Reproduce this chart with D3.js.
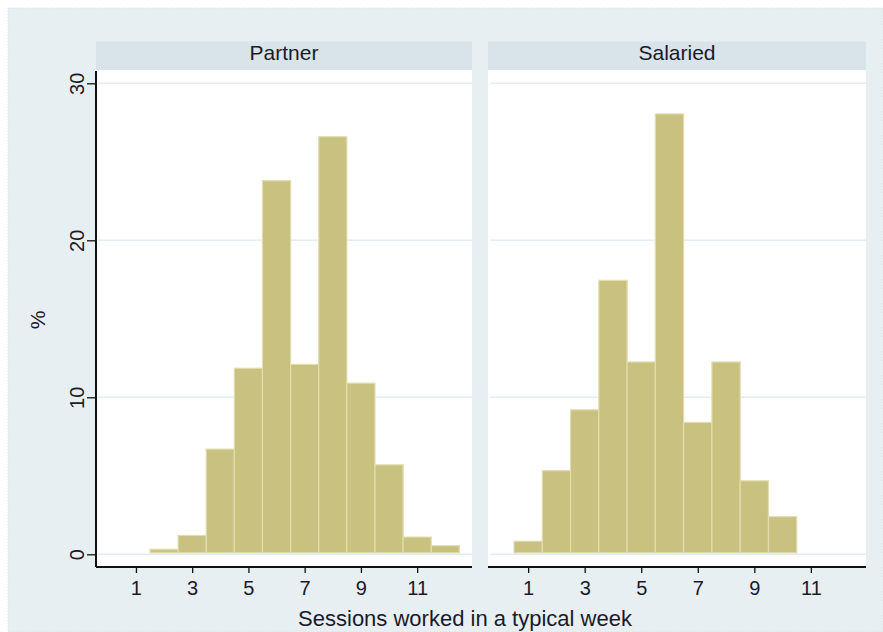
<!DOCTYPE html>
<html>
<head>
<meta charset="utf-8">
<script src="https://cdn.jsdelivr.net/npm/d3@7"></script>
<style>
  html, body { margin: 0; padding: 0; background: #ffffff; }
  svg { display: block; }
  text { font-family: Arial, "Liberation Sans", sans-serif; fill: #1a1a2a; }
</style>
</head>
<body>
<svg id="chart" width="883" height="632"></svg>
<script>
// ---- data ----
const panels = ["Partner", "Salaried"];
const partnerSessions = [2, 3, 4, 5, 6, 7, 8, 9, 10, 11, 12];
const partnerPct = [0.32, 1.2, 6.7, 11.85, 23.8, 12.1, 26.6, 10.9, 5.7, 1.1, 0.55];
const salariedSessions = [1, 2, 3, 4, 5, 6, 7, 8, 9, 10];
const salariedPct = [0.83, 5.33, 9.2, 17.45, 12.25, 28.05, 8.4, 12.25, 4.68, 2.4];
const xTicks = [1, 3, 5, 7, 9, 11];
const yTicks = [0, 10, 20, 30];
const xTitle = "Sessions worked in a typical week";
const yTitle = "%";

// ---- layout ----
const svg = d3.select("#chart");
const bg = "#e8eff2";
const stripFill = "#d8e4ea";
const barFill = "#c9c17f";
const barStroke = "#e2ddb0";
const gridCol = "#e4eef1";

svg.append("rect").attr("x", 8).attr("y", 8).attr("width", 875).attr("height", 624)
  .attr("fill", bg).attr("stroke", "#d7dfe3").attr("stroke-dasharray", "1,2");

const plotTop = 70, plotBottom = 567;
const y = d3.scaleLinear().domain([0, 30]).range([554.3, 83.3]);

const panelDefs = [
  { name: panels[0], x0: 96, x1: 472, sessions: partnerSessions, pct: partnerPct, yAxis: true },
  { name: panels[1], x0: 488, x1: 866, sessions: salariedSessions, pct: salariedPct, yAxis: false }
];

panelDefs.forEach(p => {
  const x = d3.scaleLinear().domain([-0.42, 12.95]).range([p.x0, p.x1]);
  const g = svg.append("g");

  // strip
  g.append("rect").attr("x", p.x0).attr("y", 41.5).attr("width", p.x1 - p.x0).attr("height", plotTop - 41.5)
    .attr("fill", stripFill);
  g.append("text").attr("x", (p.x0 + p.x1) / 2).attr("y", 60)
    .attr("text-anchor", "middle").attr("font-size", 21).text(p.name);

  // plot region
  g.append("rect").attr("x", p.x0).attr("y", plotTop).attr("width", p.x1 - p.x0).attr("height", plotBottom - plotTop)
    .attr("fill", "#ffffff");

  // grid
  g.selectAll(".grid").data(yTicks).enter().append("line")
    .attr("x1", p.x0 + 2).attr("x2", p.x1)
    .attr("y1", d => y(d)).attr("y2", d => y(d))
    .attr("stroke", gridCol).attr("stroke-width", 1.5);

  // bars
  const data = p.sessions.map((s, i) => ({ s, v: p.pct[i] }));
  g.selectAll(".bar").data(data).enter().append("rect")
    .attr("x", d => x(d.s - 0.5))
    .attr("width", d => x(d.s + 0.5) - x(d.s - 0.5))
    .attr("y", d => y(d.v))
    .attr("height", d => y(0) - 1.5 - y(d.v))
    .attr("fill", barFill).attr("stroke", barStroke).attr("stroke-width", 1.2);

  // x axis
  const xAxis = d3.axisBottom(x).tickValues(xTicks).tickSize(6).tickPadding(8).tickFormat(d3.format("d"));
  const xa = g.append("g").attr("transform", `translate(0,${plotBottom})`).call(xAxis);
  xa.select(".domain").attr("stroke", "#111").attr("stroke-width", 2)
    .attr("d", `M${p.x0},0H${p.x1}`);
  xa.selectAll(".tick line").attr("stroke", "#111").attr("stroke-width", 1.3);
  xa.selectAll(".tick text").attr("font-size", 20).attr("font-family", "Arial, 'Liberation Sans', sans-serif")
    .attr("fill", "#1a1a2a");

  if (p.yAxis) {
    const yAxis = d3.axisLeft(y).tickValues(yTicks).tickSize(9).tickPadding(0).tickFormat(d3.format("d"));
    const ya = g.append("g").attr("transform", `translate(${p.x0},0)`).call(yAxis);
    ya.select(".domain").attr("stroke", "#111").attr("stroke-width", 2)
      .attr("d", `M0,${plotTop + 1}V${plotBottom}`);
    ya.selectAll(".tick line").attr("stroke", "#111").attr("stroke-width", 1.3);
    ya.selectAll(".tick text")
      .attr("font-size", 20).attr("font-family", "Arial, 'Liberation Sans', sans-serif").attr("fill", "#1a1a2a")
      .attr("text-anchor", "middle").attr("dy", null).attr("x", null)
      .attr("transform", "translate(-19,0) rotate(-90)")
      .attr("dy", "0.35em");
  }
});

// axis titles
svg.append("text").attr("x", 465).attr("y", 626).attr("text-anchor", "middle")
  .attr("font-size", 22).text(xTitle);
svg.append("text").attr("transform", "translate(45,320) rotate(-90)").attr("text-anchor", "middle")
  .attr("font-size", 21).text(yTitle);
</script>
</body>
</html>
